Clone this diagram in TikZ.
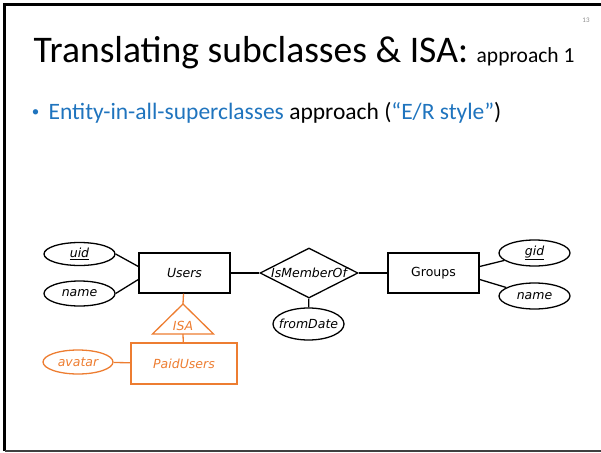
\documentclass[tikz,border=0pt]{standalone}
\usepackage{fontspec}
\setmainfont{Carlito}
\newfontfamily\erfont{DejaVu Sans}
\usetikzlibrary{shapes.geometric}
\definecolor{slideblue}{HTML}{1F74BE}
\definecolor{subcls}{HTML}{ED7D31}
\definecolor{pagegray}{HTML}{8C8C8C}

\begin{document}
\begin{tikzpicture}[x=1pt,y=-1pt,
  line width=1.3,
  ertext/.style={font=\erfont\itshape\fontsize{12.5}{14}\selectfont},
  entity/.style={ertext, draw, rectangle, minimum width=91, minimum height=40, inner sep=0},
  attr/.style={ertext, draw, ellipse, minimum width=71, minimum height=24, inner sep=0},
  relship/.style={ertext, draw, diamond, minimum width=98, minimum height=50, inner sep=0},
  subclass/.style={draw=subcls, text=subcls},
  bodytext/.style={anchor=base west, inner sep=0, font=\fontsize{23.5}{28}\selectfont},
]
\useasboundingbox (0,0) rectangle (601,452);

% slide frame
\draw[line width=2.6] (603,4.5) -- (4.5,4.5) -- (4.5,450.8);
\draw[line width=1.8, draw=black!75] (4.5,450.8) -- (603,450.8);

% page number and headings
\node[text=pagegray, font=\fontsize{7}{8}\selectfont] (pagenum) at (586,20) {13};
\node[anchor=base west, inner sep=0, font=\fontsize{37.6}{44}\selectfont] (title) at (33,62)
  {Translating subclasses \& ISA: {\fontsize{21.5}{26}\selectfont approach 1}};
\node[anchor=base, inner sep=0, text=slideblue, font=\fontsize{15}{18}\selectfont] (dot) at (35.5,116) {\textbullet};
\node[bodytext] (point) at (48,119.5)
  {\textcolor{slideblue}{Entity-in-all-superclasses} approach (\textcolor{slideblue}{“E/R style”})};

% entities and relationship
\node[entity] (users) at (184.5,273) {Users};
\node[entity, font=\erfont\fontsize{12.5}{14}\selectfont] (groups) at (433.5,273) {Groups};
\node[relship] (member) at (309,273) {\makebox[0pt]{IsMemberOf}};

% attributes
\node[attr, minimum height=23] (uid) at (79.5,254) {\underline{uid}};
\node[attr, minimum height=25] (uname) at (79.5,293.5) {name};
\node[attr, minimum height=26] (gid) at (534.5,253) {\underline{gid}};
\node[attr, minimum height=26] (gname) at (534.5,296) {name};
\node[attr, minimum height=32] (fromdate) at (308.5,324) {\makebox[0pt]{fromDate}};

\draw (uid.east) -- (users.172);
\draw (uname.east) -- (users.188);
\draw (users) -- (member);
\draw (member) -- (groups);
\draw (groups.8) -- (gid);
\draw (groups.-8) -- (gname);
\draw (member) -- (fromdate);

% subclass via ISA
\coordinate (isatop) at (183,304);
\coordinate (isabase) at (183,334);
\node[ertext, text=subcls, inner sep=0] (isa) at (183,326) {ISA};
\node[entity, subclass, minimum width=106, minimum height=41] (paid) at (184,363.5) {PaidUsers};
\node[attr, subclass, minimum width=70, minimum height=24] (avatar) at (78,362) {avatar};

\draw[subcls] (isatop) -- ++(30.5,30) -- ++(-61,0) -- cycle;
\draw[subcls] (users) -- (isatop);
\draw[subcls] (isabase) -- (paid);
\draw[subcls] (avatar) -- (paid);
\end{tikzpicture}
\end{document}
